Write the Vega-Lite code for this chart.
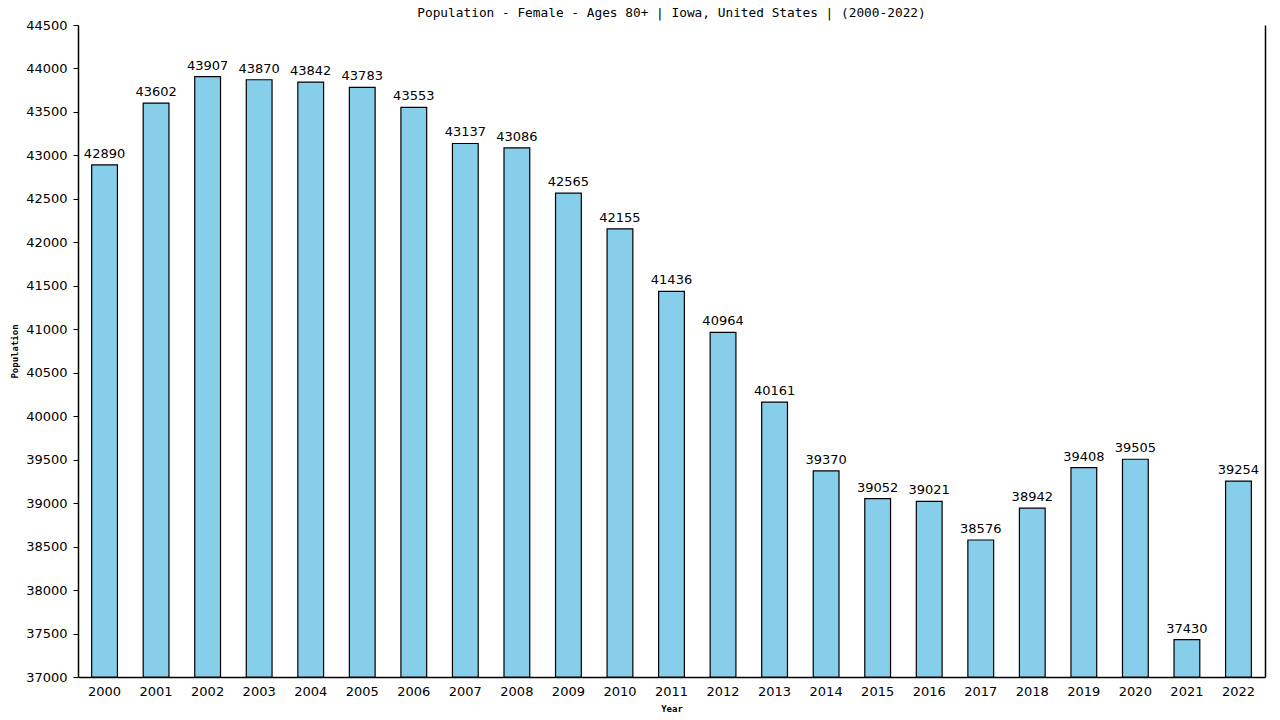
{
  "$schema": "https://vega.github.io/schema/vega-lite/v6.json",
  "width": 1187,
  "height": 652,
  "autosize": "none",
  "padding": {"left": 78, "top": 25, "right": 15, "bottom": 43},
  "background": "white",
  "title": {
    "text": "Population - Female - Ages 80+ | Iowa, United States |  (2000-2022)",
    "font": "DejaVu Sans Mono",
    "fontSize": 12.8,
    "fontWeight": "normal",
    "color": "black",
    "offset": -1
  },
  "data": {
    "values": [
      {"year": "2000", "population": 42890},
      {"year": "2001", "population": 43602},
      {"year": "2002", "population": 43907},
      {"year": "2003", "population": 43870},
      {"year": "2004", "population": 43842},
      {"year": "2005", "population": 43783},
      {"year": "2006", "population": 43553},
      {"year": "2007", "population": 43137},
      {"year": "2008", "population": 43086},
      {"year": "2009", "population": 42565},
      {"year": "2010", "population": 42155},
      {"year": "2011", "population": 41436},
      {"year": "2012", "population": 40964},
      {"year": "2013", "population": 40161},
      {"year": "2014", "population": 39370},
      {"year": "2015", "population": 39052},
      {"year": "2016", "population": 39021},
      {"year": "2017", "population": 38576},
      {"year": "2018", "population": 38942},
      {"year": "2019", "population": 39408},
      {"year": "2020", "population": 39505},
      {"year": "2021", "population": 37430},
      {"year": "2022", "population": 39254}
    ]
  },
  "encoding": {
    "x": {
      "field": "year",
      "type": "ordinal",
      "title": "Year",
      "scale": {"paddingInner": 0.5, "paddingOuter": 0.265},
      "axis": {
        "labelAngle": 0,
        "ticks": false,
        "labelPadding": 8,
        "titlePadding": 6,
        "domainColor": "black",
        "domainWidth": 1.5
      }
    },
    "y": {
      "field": "population",
      "type": "quantitative",
      "scale": {"domain": [37000, 44500], "nice": false, "zero": false}
    }
  },
  "layer": [
    {
      "mark": {"type": "bar", "fill": "#87CEEB", "stroke": "black", "strokeWidth": 1.2},
      "encoding": {
        "y": {
          "field": "population",
          "type": "quantitative",
          "title": "Population",
          "axis": {
            "values": [37000, 37500, 38000, 38500, 39000, 39500, 40000, 40500, 41000, 41500, 42000, 42500, 43000, 43500, 44000, 44500],
            "format": "d",
            "grid": false,
            "tickSize": 5,
            "tickColor": "black",
            "labelPadding": 6,
            "titlePadding": 6,
            "domainColor": "black",
            "domainWidth": 1.5
          }
        },
        "y2": {"datum": 37000}
      }
    },
    {
      "mark": {"type": "text", "dy": -11, "font": "DejaVu Sans", "fontSize": 13, "color": "black"},
      "encoding": {
        "text": {"field": "population", "type": "quantitative", "format": "d"},
        "y": {
          "field": "population",
          "type": "quantitative",
          "axis": {
            "orient": "right",
            "labels": false,
            "ticks": false,
            "grid": false,
            "title": null,
            "domainColor": "black",
            "domainWidth": 1.5
          }
        }
      }
    }
  ],
  "resolve": {"axis": {"y": "independent"}},
  "config": {
    "view": {"stroke": null},
    "axis": {
      "labelFont": "DejaVu Sans",
      "labelFontSize": 13,
      "labelColor": "black",
      "titleFont": "DejaVu Sans Mono",
      "titleFontSize": 9,
      "titleFontWeight": "bold",
      "titleColor": "black"
    }
  }
}
